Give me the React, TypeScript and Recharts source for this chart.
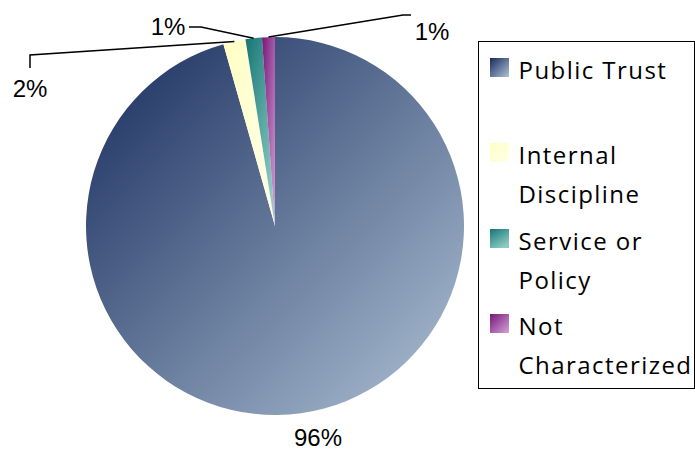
import React from "react"
import { PieChart, Pie, Cell, Legend } from "recharts"

// complaint types, share of all complaints (%)
const categories = ["Public Trust", "Internal Discipline", "Service or Policy", "Not Characterized"]
const shares = [95.6, 1.9, 1.4, 1.1]

const data = categories.map((name, i) => ({ name, value: shares[i] }))

// gradient stops per slice
const gradients = [
    { id: "gPublic", from: "#152a5b", to: "#b0c3d6", x2: 1, y2: 1 },
    { id: "gInternal", from: "#ffffc4", to: "#ffffea", x2: 1, y2: 1 },
    { id: "gService", from: "#137676", to: "#8ccac2", x2: 0.6, y2: 1 },
    { id: "gNotChar", from: "#761676", to: "#d4a2da", x2: 1, y2: 1 },
]

// where each percentage label sits, relative to the pie centre
const labelLayout = [
    { dx: 43, dy: 211, path: null },
    { dx: -245, dy: -138, path: [[-245, -171], [-245, -158]] },
    { dx: -107, dy: -200, path: [[-74, -199], [-86, -199]] },
    { dx: 157, dy: -195, path: [[128, -211], [136, -211]] },
]

const RAD = Math.PI / 180

const renderLabel = (props: any) => {
    const { cx, cy, midAngle, outerRadius, percent, index } = props
    const lay = labelLayout[index]
    const sx = cx + outerRadius * Math.cos(-midAngle * RAD)
    const sy = cy + outerRadius * Math.sin(-midAngle * RAD)
    const pts = lay.path
        ? [[sx, sy], ...lay.path.map(([px, py]) => [cx + px, cy + py])].map((p) => p.join(",")).join(" ")
        : null
    return (
        <g key={`lbl-${index}`}>
            {pts && <polyline points={pts} fill="none" stroke="#000" strokeWidth={1.5} />}
            <text
                x={cx + lay.dx}
                y={cy + lay.dy + 8.6}
                textAnchor="middle"
                fontFamily="'Liberation Sans', Arial, sans-serif"
                fontSize={24}
                fill="#000"
            >
                {Math.round(percent * 100)}%
            </text>
        </g>
    )
}

const renderLegend = (props: any) => {
    // keep the series order, not the alphabetical one
    const items = [...props.payload].sort(
        (a: any, b: any) => categories.indexOf(a.value) - categories.indexOf(b.value)
    )
    return (
        <div
            style={{
                position: "relative",
                width: 217,
                height: 348,
                border: "1.5px solid #000",
                boxSizing: "border-box",
                overflow: "hidden",
                background: "#fff",
                fontFamily: "'Open Sans', sans-serif",
                fontSize: 24,
                letterSpacing: "1.45px",
                lineHeight: "39px",
                color: "#000",
            }}
        >
            {items.map((entry: any) => {
                const i = categories.indexOf(entry.value)
                return (
                    <div key={entry.value} style={{ position: "absolute", left: 0, top: 16 + 85.3 * i, width: 260 }}>
                        <svg width={19} height={19} style={{ position: "absolute", left: 10.5, top: 0 }}>
                            <rect width={19} height={19} fill={`url(#${gradients[i].id})`} />
                        </svg>
                        <div style={{ position: "absolute", left: 39.5, top: -8, width: 176, whiteSpace: "normal" }}>
                            {entry.value}
                        </div>
                    </div>
                )
            })}
        </div>
    )
}

export default function App() {
    return (
        <div style={{ width: 695, height: 451, position: "relative", overflow: "hidden", background: "#fff" }}>
            <style>{"body{margin:0}"}</style>
            <PieChart width={695} height={451} margin={{ top: 0, right: 0, bottom: 0, left: 0 }}>
                <defs>
                    {gradients.map((g) => (
                        <linearGradient key={g.id} id={g.id} x1="0" y1="0" x2={g.x2} y2={g.y2}>
                            <stop offset="0%" stopColor={g.from} />
                            <stop offset="100%" stopColor={g.to} />
                        </linearGradient>
                    ))}
                </defs>
                <Pie
                    data={data}
                    dataKey="value"
                    nameKey="name"
                    cx={275}
                    cy={226}
                    outerRadius={189}
                    startAngle={90}
                    endAngle={-270}
                    stroke="none"
                    label={renderLabel}
                    labelLine={false}
                    isAnimationActive={false}
                >
                    {data.map((d, i) => (
                        <Cell key={d.name} fill={`url(#${gradients[i].id})`} />
                    ))}
                </Pie>
                <Legend
                    content={renderLegend}
                    wrapperStyle={{ position: "absolute", left: 478, top: 41, width: 217, height: 348 }}
                />
            </PieChart>
        </div>
    )
}
